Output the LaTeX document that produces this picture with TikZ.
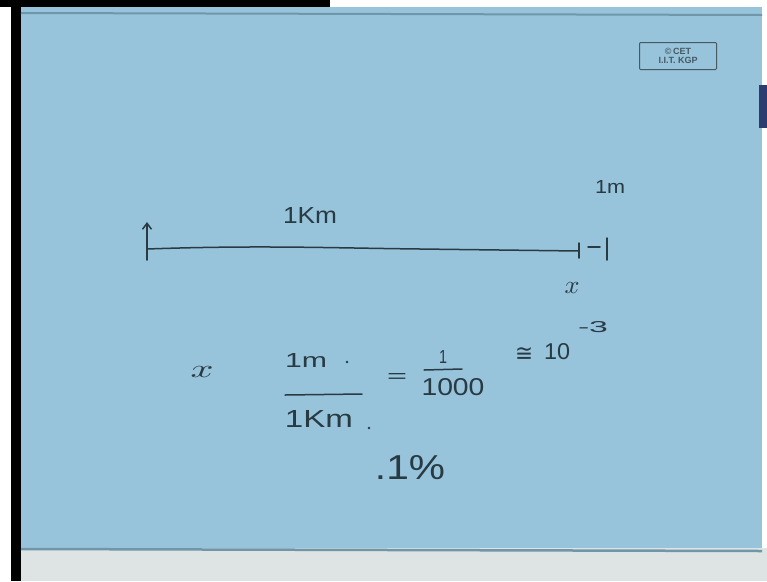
\documentclass[tikz,border=0pt]{standalone}
\usepackage{fontspec}
\setmainfont{Liberation Sans}
\newfontfamily\symfnt{DejaVu Sans}
\usetikzlibrary{arrows.meta}
\definecolor{paper}{RGB}{151,195,219}
\definecolor{paperedge}{RGB}{112,150,170}
\definecolor{floorc}{RGB}{222,228,228}
\definecolor{inkc}{RGB}{40,58,66}
\definecolor{stampc}{RGB}{70,90,100}
\definecolor{objc}{RGB}{45,60,110}
\newcommand\hw[3]{\resizebox{#1pt}{#2pt}{#3}}
\begin{document}
\begin{tikzpicture}[x=1pt,y=-1pt,
  ink/.style={draw=inkc, line width=1.5pt, line cap=round},
  hand/.style={text=inkc, inner sep=0pt},
  dotmark/.style={fill=inkc, circle, inner sep=0pt, minimum size=2.6pt}]
\useasboundingbox (0,0) rectangle (767,581);
% background
\fill[white] (0,0) rectangle (767,581);
\fill[floorc] (21,548) rectangle (767,581);
\fill[black] (11,0) rectangle (21,581);
\fill[black] (0,0) rectangle (330,7);
\fill[paper] (21,7) rectangle (762,548);
\draw[paperedge, line width=2pt] (21,13) -- (762,15);
\draw[paperedge, line width=2.5pt] (21,549) -- (762,551);
\fill[objc] (759,85) rectangle (767,128);
% stamp
\node[draw=stampc, line width=1pt, rounded corners=1pt, minimum width=77pt, minimum height=27pt,
      text=stampc, font=\fontsize{9}{8.5}\selectfont\bfseries, align=center, inner sep=1pt]
      (stamp) at (678,56) {\textcopyright\,CET\\I.I.T. KGP};
% top line
\coordinate (L) at (147,249);
\coordinate (R) at (579,251);
\draw[ink] (L) .. controls (260,245) and (330,248) .. (420,249) -- (R);
\coordinate (arrowbase) at (147,260);
\coordinate (arrowtip) at (147,222);
\draw[ink, -{Straight Barb[length=6pt,width=9pt]}] (arrowbase) -- (arrowtip);
\coordinate (t1a) at (579,243); \coordinate (t1b) at (579,258);
\draw[ink] (t1a) -- (t1b);
\coordinate (s1) at (588,247); \coordinate (s2) at (600,247);
\draw[ink] (s1) -- (s2);
\coordinate (t2a) at (607,238); \coordinate (t2b) at (607,260);
\draw[ink] (t2a) -- (t2b);
\node[hand] (km) at (310,215) {\hw{54}{16}{1Km}};
\node[hand] (onem) at (610,187) {\hw{30}{13}{1m}};
\node[hand] (xlab) at (572,288) {\hw{15}{11}{$x$}};
% formula
\node[hand] (xf) at (202,372) {\hw{23}{11}{$x$}};
\node[hand] (num) at (306,360) {\hw{42}{14}{1m}};
\node[dotmark] (numdot) at (347,362) {};
\coordinate (fb1) at (285,395); \coordinate (fb2) at (362,394);
\draw[ink] (fb1) -- (fb2);
\node[hand] (den) at (319,419) {\hw{68}{17}{1Km}};
\node[dotmark] (dendot) at (369,428) {};
\node[hand] (eq) at (397,378) {\hw{20}{9}{=}};
\node[hand] (one) at (443,357) {\hw{8}{13}{1}};
\coordinate (fc1) at (424,370); \coordinate (fc2) at (462,369);
\draw[ink] (fc1) -- (fc2);
\node[hand] (thou) at (453,387) {\hw{63}{17}{1000}};
\node[hand] (approx) at (524,354) {\hw{18}{14}{\symfnt ≅}};
\node[hand] (ten) at (557,352) {\hw{26}{16}{10}};
\node[hand] (exp) at (593,327) {\hw{30}{11}{-3}};
\node[hand] (pct) at (410,468) {\hw{70}{24}{.1\%}};
\end{tikzpicture}
\end{document}
